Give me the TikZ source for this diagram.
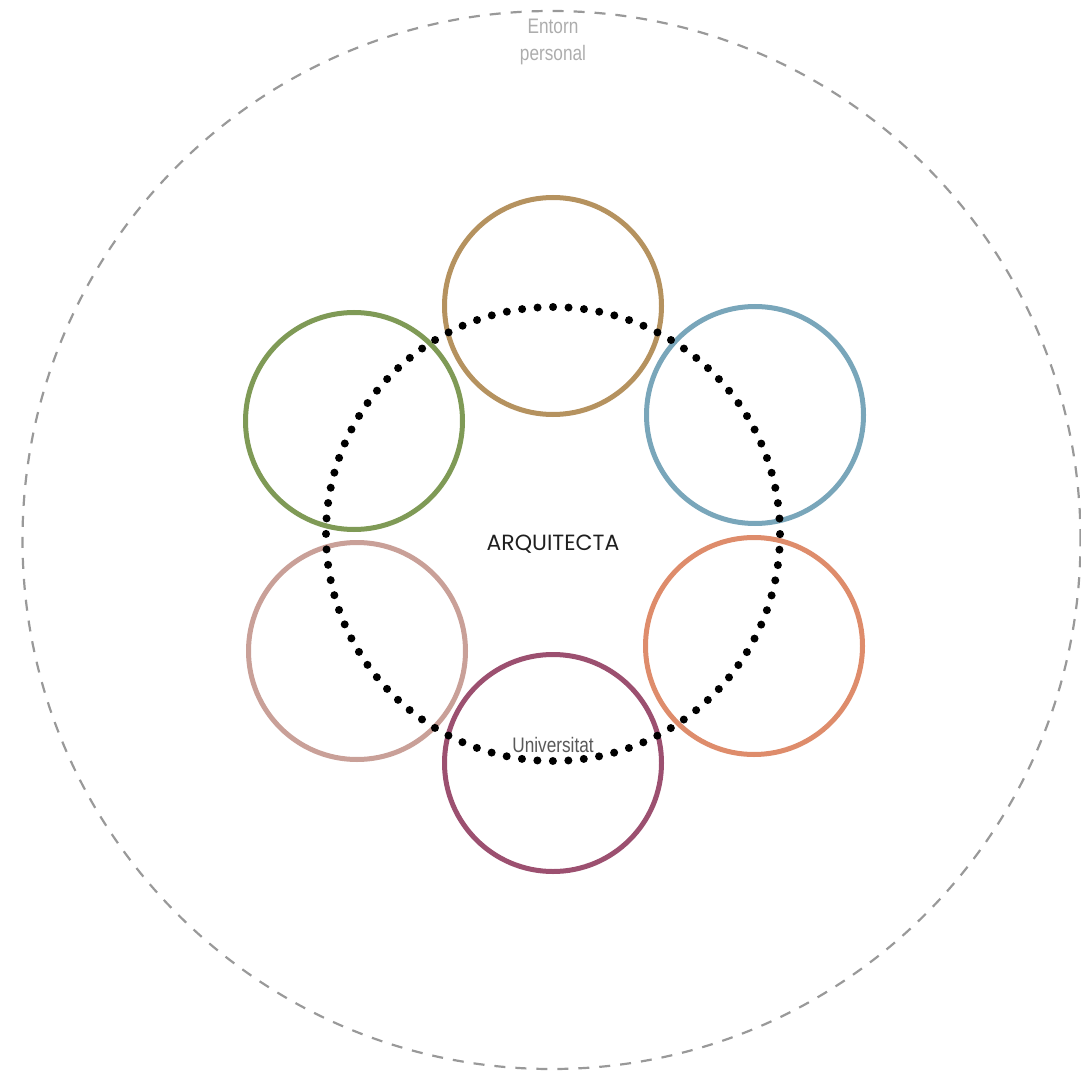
\documentclass[tikz,border=0pt]{standalone}
\usepackage{fontspec}
\newfontfamily\poppinsfont{Poppins}
\newfontfamily\condfont[FakeStretch=0.82]{Liberation Sans}
\definecolor{ctan}{HTML}{B5925F}
\definecolor{cgreen}{HTML}{7F9A56}
\definecolor{cblue}{HTML}{79A6BA}
\definecolor{corange}{HTML}{DE8C6B}
\definecolor{cpink}{HTML}{C9A098}
\definecolor{cpurple}{HTML}{9C5070}
\definecolor{cgrayline}{HTML}{999999}
\tikzset{
  ring/.style={circle, draw=#1, line width=5pt, minimum size=217pt, inner sep=0pt},
  dotline/.style={line width=8pt, line cap=round, dash pattern=on 0pt off 15.503pt},
  outerline/.style={draw=cgrayline, line width=2.2pt, dash pattern=on 11pt off 10pt},
  smalllabel/.style={font=\condfont\fontsize{21}{27}\selectfont, align=center, inner sep=0pt},
}
\begin{document}
\begin{tikzpicture}[x=1pt,y=-1pt]
\useasboundingbox (0,0) rectangle (1081,1075);
\coordinate (oc) at (551.5,540);
\draw[outerline] (oc) circle[radius=529pt];
\node[ring=ctan] (top) at (553,306) {};
\node[ring=cgreen] (green) at (354,421) {};
\node[ring=cblue] (blue) at (755,415) {};
\node[ring=corange] (orange) at (754,646) {};
\node[ring=cpink] (pink) at (357,651) {};
\node[ring=cpurple] (uni) at (553,763) {};
\coordinate (dc) at (553,534);
\draw[dotline] (dc) circle[radius=227pt];
\node[smalllabel, text=black!32] (entorn) at (553,42) {Entorn\\personal};
\node[smalllabel, text=black!65] (unilabel) at (553,745) {Universitat};
\node[font=\poppinsfont\fontsize{22}{26}\selectfont, text=black!88, inner sep=0pt] (arq) at (553,544) {ARQUITECTA};
\end{tikzpicture}
\end{document}
